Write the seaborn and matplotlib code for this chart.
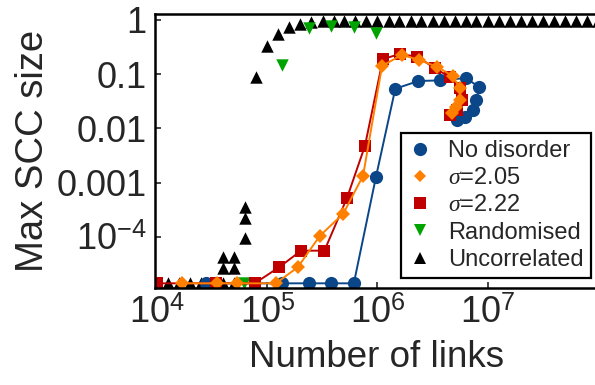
import numpy as np
import pandas as pd
import matplotlib
matplotlib.use("Agg")
import matplotlib.pyplot as plt
import seaborn as sns
from matplotlib.lines import Line2D

# values
nd_x = [2.8e4, 1.37e5, 2.4e5, 3.8e5, 6.1e5, 9.7e5, 1.45e6, 2.35e6, 3.7e6, 6.3e6, 8.4e6, 7.9e6, 7.3e6, 6.2e6, 5.3e6]
nd_y = [1.4e-5, 1.4e-5, 1.4e-5, 1.4e-5, 1.4e-5, 1.3e-3, 0.054, 0.075, 0.077, 0.085, 0.058, 0.034, 0.022, 0.016, 0.0145]

s205_x = [1.7e4, 3.5e4, 5.3e4, 1.2e5, 1.9e5, 3.0e5, 4.9e5, 7.4e5, 1.1e6, 1.66e6, 2.4e6, 3.5e6, 4.8e6, 5.6e6, 5.6e6, 5.2e6, 4.7e6]
s205_y = [1.4e-5, 1.4e-5, 1.4e-5, 1.4e-5, 2.8e-5, 1.05e-4, 2.7e-4, 1.35e-3, 0.142, 0.227, 0.183, 0.136, 0.093, 0.055, 0.033, 0.025, 0.019]

s222_x = [1.0e4, 3.4e4, 7.7e4, 1.29e5, 2.03e5, 3.3e5, 5.3e5, 7.7e5, 1.12e6, 1.59e6, 2.3e6, 3.3e6, 4.5e6, 5.6e6, 5.8e6, 5.3e6, 4.5e6]
s222_y = [1.4e-5, 1.4e-5, 1.4e-5, 2.8e-5, 5.6e-5, 5.6e-5, 5.3e-4, 4.8e-3, 0.19, 0.236, 0.21, 0.13, 0.089, 0.056, 0.034, 0.022, 0.018]

rnd_x = [6.2e4, 1.36e5, 2.39e5, 3.78e5, 6.1e5, 9.7e5]
rnd_y = [1.4e-5, 0.148, 0.71, 0.78, 0.74, 0.58]

unc_x = [1.26e4, 1.58e4, 2.0e4, 2.5e4, 3.2e4, 4.0e4, 4.0e4, 4.0e4, 5.0e4, 5.0e4, 5.0e4,
         6.3e4, 6.3e4, 6.3e4, 7.9e4, 1.0e5, 1.26e5, 1.58e5, 2.0e5,
         2.5e5, 3.2e5, 4.0e5, 5.0e5, 6.3e5, 7.9e5, 1.0e6, 1.26e6, 1.58e6, 2.0e6,
         2.5e6, 3.2e6, 4.0e6, 5.0e6, 6.3e6, 7.9e6, 1.0e7, 1.26e7, 1.58e7, 2.0e7,
         2.5e7, 3.2e7, 4.0e7, 5.0e7, 6.3e7, 7.9e7, 1.0e8]
unc_y = [1.4e-5, 1.4e-5, 1.4e-5, 1.4e-5, 1.4e-5, 1.4e-5, 2.7e-5, 4.2e-5, 1.4e-5, 2.7e-5, 4.2e-5,
         9.7e-5, 2.2e-4, 3.5e-4, 0.089, 0.33, 0.55, 0.74, 0.84,
         0.93, 0.95, 0.96, 0.96, 0.96, 0.96, 0.96, 0.96, 0.96, 0.96,
         0.96, 0.96, 0.96, 0.96, 0.96, 0.96, 0.96, 0.96, 0.96, 0.96,
         0.96, 0.96, 0.96, 0.96, 0.96, 0.96, 0.96]

labels = ["No disorder", r"$\sigma$=2.05", r"$\sigma$=2.22", "Randomised", "Uncorrelated"]
c_blue, c_orange, c_red, c_green = "#0a4688", "#ff8000", "#c00000", "#00a400"

sns.set_style("ticks")
plt.rcParams["font.family"] = ["Liberation Sans", "DejaVu Sans"]
plt.rcParams["mathtext.fontset"] = "custom"
plt.rcParams["mathtext.rm"] = "Liberation Sans"
plt.rcParams["mathtext.it"] = "Liberation Serif:italic"

fig = plt.figure(figsize=(5.95, 3.85), dpi=100)
ax = fig.add_axes([155 / 595, 1 - 288 / 385, 443 / 595, 274 / 385])

nd = pd.DataFrame({"x": nd_x, "y": nd_y})
s205 = pd.DataFrame({"x": s205_x, "y": s205_y})
s222 = pd.DataFrame({"x": s222_x, "y": s222_y})
rnd = pd.DataFrame({"x": rnd_x, "y": rnd_y})
unc = pd.DataFrame({"x": unc_x, "y": unc_y})

lw = 1.4
sns.lineplot(data=nd, x="x", y="y", sort=False, color=c_blue, marker="o", markersize=9.5,
             markeredgewidth=0, linewidth=lw, ax=ax, estimator=None)
sns.lineplot(data=s222, x="x", y="y", sort=False, color=c_red, marker="s", markersize=8.8,
             markeredgewidth=0, linewidth=lw, ax=ax, estimator=None)
sns.lineplot(data=s205, x="x", y="y", sort=False, color=c_orange, marker="D", markersize=7.4,
             markeredgewidth=0, linewidth=lw, ax=ax, estimator=None)
sns.scatterplot(data=unc, x="x", y="y", color="black", marker="^", s=80, linewidth=0, ax=ax)
sns.scatterplot(data=rnd, x="x", y="y", color=c_green, marker="v", s=80, linewidth=0, ax=ax)

ax.set_xscale("log")
ax.set_yscale("log")
ax.set_xlim(10 ** 3.982, 10 ** 8.0)
ax.set_ylim(10 ** -4.94, 10 ** 0.11)

ax.set_xticks([1e4, 1e5, 1e6, 1e7])
ax.set_xticklabels([r"$10^{4}$", r"$10^{5}$", r"$10^{6}$", r"$10^{7}$"])
ax.xaxis.set_minor_locator(matplotlib.ticker.NullLocator())
ax.set_yticks([1e-4, 1e-3, 1e-2, 0.1, 1])
ax.set_yticklabels([r"$10^{-4}$", "0.001", "0.01", "0.1", "1"])

ax.tick_params(axis="both", which="major", direction="in", length=4, width=1.2,
               labelsize=26, pad=6)
ax.tick_params(axis="y", which="minor", direction="in", length=2, width=0.8)
for sp in ax.spines.values():
    sp.set_linewidth(1.8)
    sp.set_color("black")

ax.set_xlabel("Number of links", fontsize=26.5, labelpad=6)
ax.set_ylabel("Max SCC size", fontsize=27.5, labelpad=4)

handles = [
    Line2D([], [], ls="none", marker="o", color=c_blue, markersize=9.5, markeredgewidth=0),
    Line2D([], [], ls="none", marker="D", color=c_orange, markersize=6.5, markeredgewidth=0),
    Line2D([], [], ls="none", marker="s", color=c_red, markersize=8.5, markeredgewidth=0),
    Line2D([], [], ls="none", marker="v", color=c_green, markersize=8.8, markeredgewidth=0),
    Line2D([], [], ls="none", marker="^", color="black", markersize=8.8, markeredgewidth=0),
]
leg = ax.legend(handles, labels, loc="upper left", bbox_to_anchor=(401 / 595, 1 - 133 / 385),
                bbox_transform=fig.transFigure, fontsize=17, frameon=True, fancybox=False,
                edgecolor="black", framealpha=1, borderpad=0.3, labelspacing=0.22,
                handlelength=1.0, handletextpad=0.7, borderaxespad=0)
leg.get_frame().set_linewidth(1.6)

fig.savefig("out.png", dpi=100)
